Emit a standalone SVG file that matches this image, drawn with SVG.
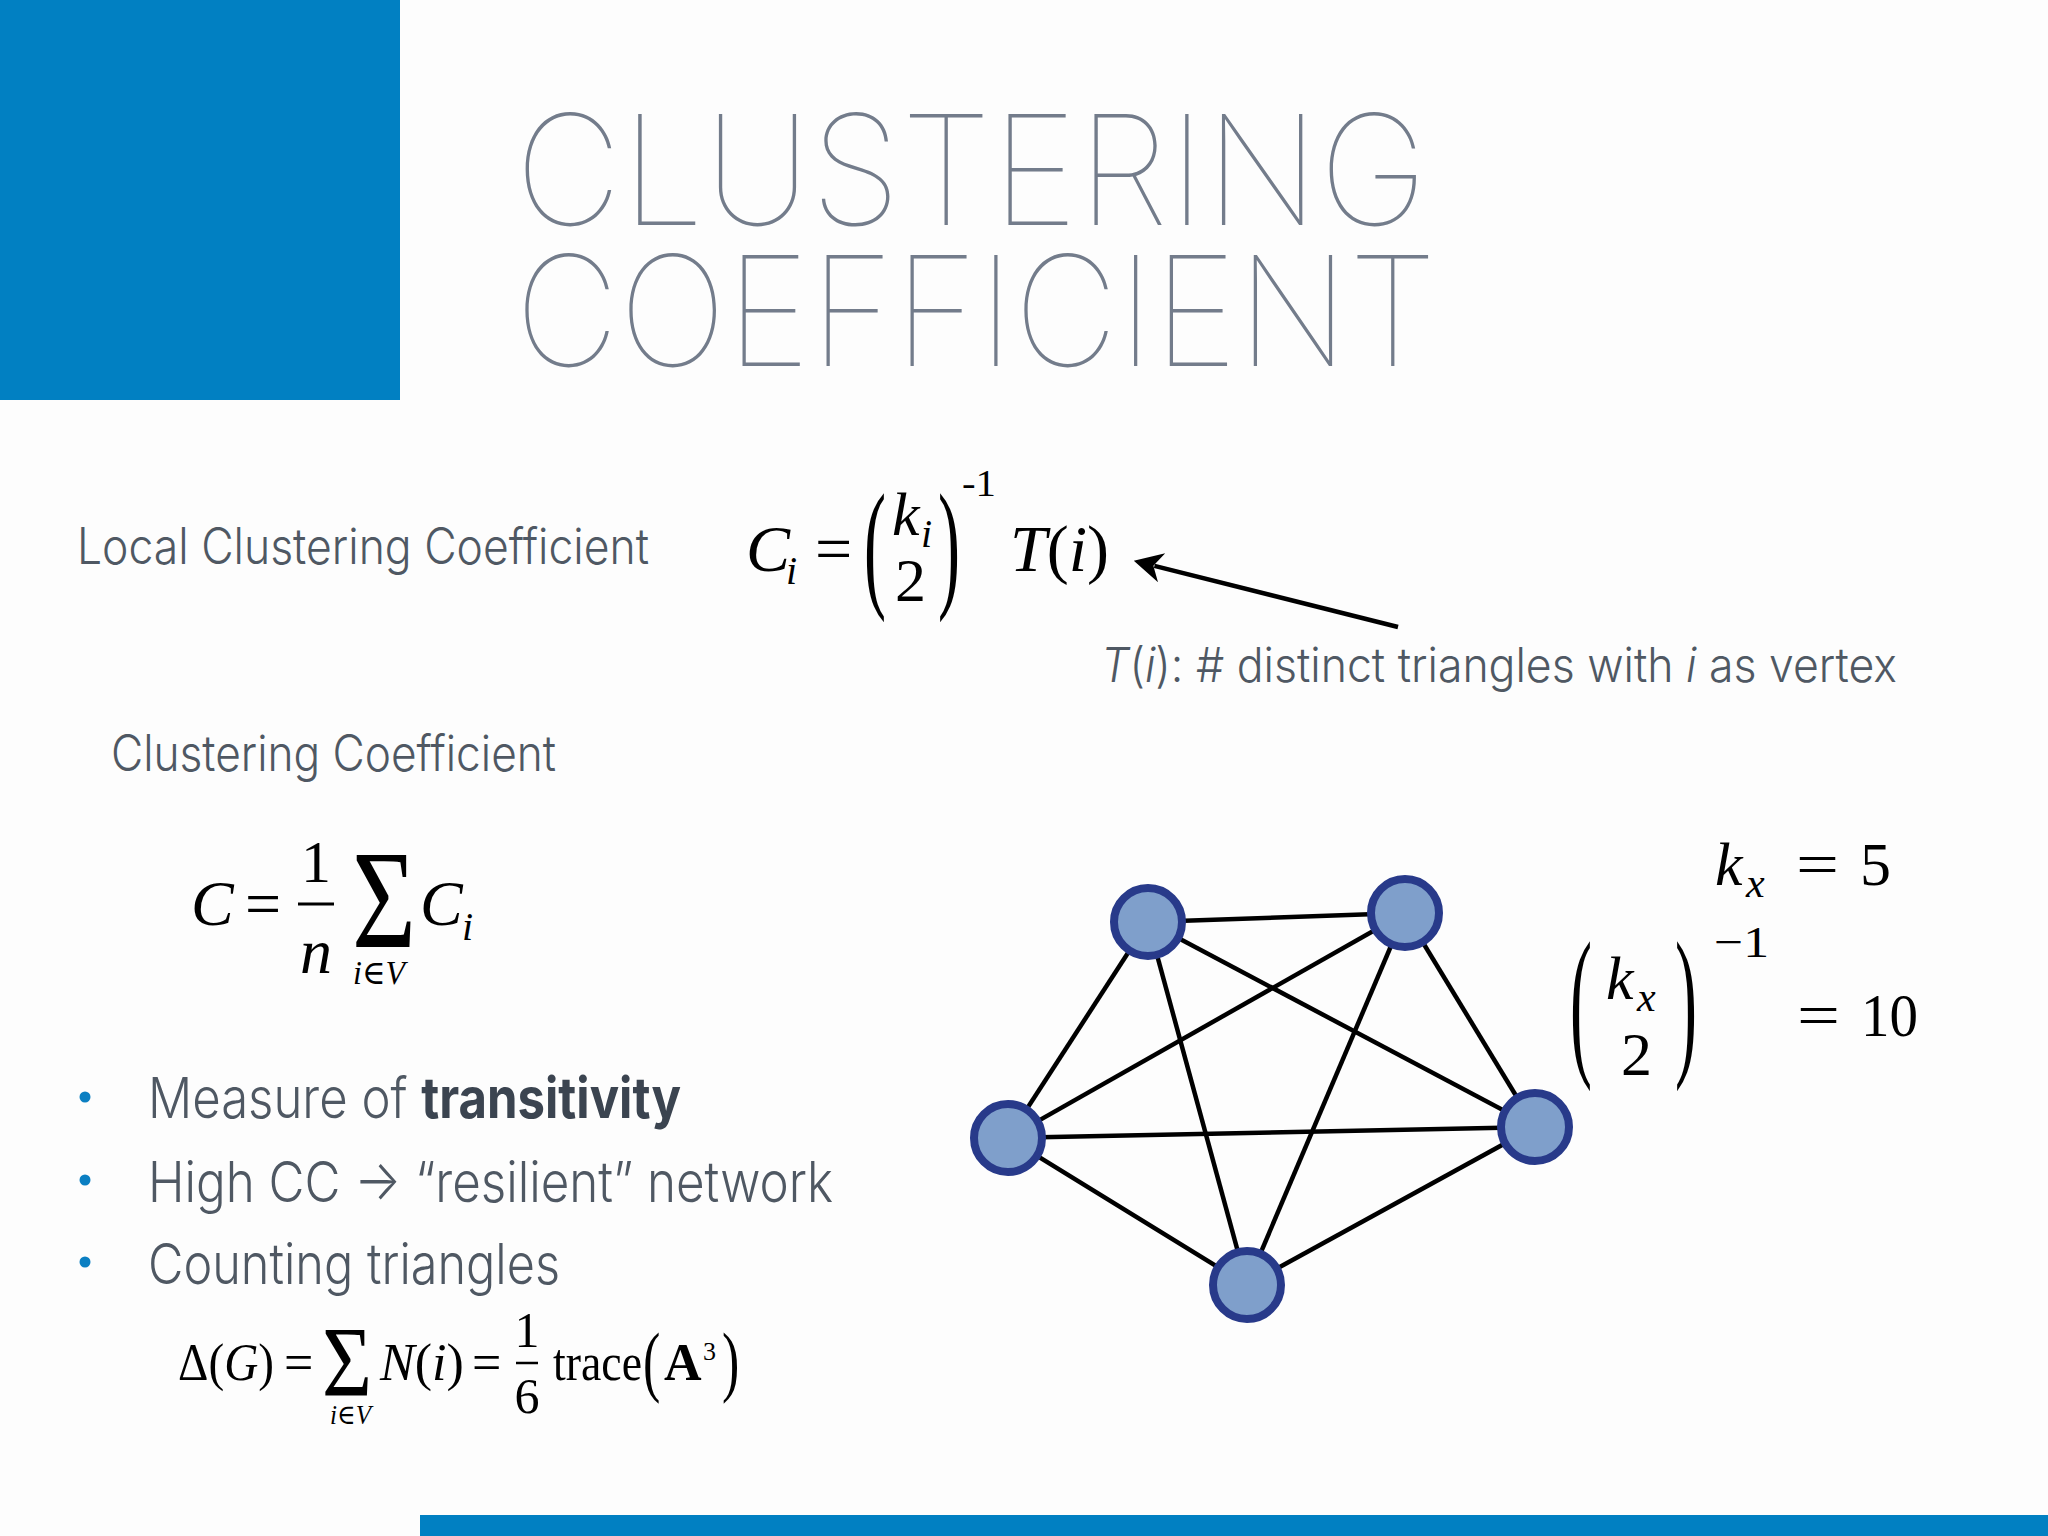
<svg xmlns="http://www.w3.org/2000/svg" width="2048" height="1536" viewBox="0 0 2048 1536">
<defs>
<style>
.title{font-family:Inter,"Liberation Sans",sans-serif;font-weight:100;font-size:153px;fill:#737c8b}
.body{font-family:Inter,"Liberation Sans",sans-serif;font-weight:300;fill:#4f5863}
.m{font-family:"Liberation Serif","DejaVu Serif",serif;fill:#000}
.it{font-style:italic}
.edge{stroke:#000;stroke-width:4.5;fill:none}
.node{fill:#7f9fcb;stroke:#283a8a;stroke-width:8}
.dot{fill:#0b7fc2}
</style>
<marker id="ah" markerUnits="userSpaceOnUse" markerWidth="44" markerHeight="34" viewBox="-10 -16 34 32" refX="0" refY="0" orient="auto">
<path d="M20,0 L-7,-14 L1,0 L-7,14 Z" fill="#000"/>
</marker>
</defs>
<rect width="2048" height="1536" fill="#fdfdfd"/>
<rect x="0" y="0" width="400" height="400" fill="#0180c2"/>
<rect x="420" y="1515" width="1628" height="21" fill="#0180c2"/>

<g id="title">
<text class="title" x="515" y="225" textLength="913" lengthAdjust="spacingAndGlyphs">CLUSTERING</text>
<text class="title" x="515" y="366" textLength="922" lengthAdjust="spacingAndGlyphs">COEFFICIENT</text>
</g>

<g id="local-label">
<text class="body" x="77" y="564" font-size="50" textLength="572" lengthAdjust="spacingAndGlyphs">Local Clustering Coefficient</text>
</g>

<g id="formula-local">
<text class="m it" x="746" y="571" font-size="66">C</text>
<text class="m it" x="786" y="584" font-size="40">i</text>
<text class="m" x="815" y="571" font-size="66">=</text>
<text class="m" transform="translate(864,558) scale(1,2.15)" x="0" y="16" font-size="66">(</text>
<text class="m it" x="892" y="535" font-size="62">k</text>
<text class="m it" x="921" y="547" font-size="40">i</text>
<text class="m" x="895" y="601" font-size="62">2</text>
<text class="m" transform="translate(938,558) scale(1,2.15)" x="0" y="16" font-size="66">)</text>
<text class="m" x="962" y="496" font-size="38" textLength="34" lengthAdjust="spacingAndGlyphs">-1</text>
<text class="m" x="1010" y="571" font-size="66"><tspan class="it">T</tspan>(<tspan class="it">i</tspan>)</text>
</g>

<g id="connectors">
<line class="edge" x1="1398" y1="627" x2="1154.4" y2="565.9" stroke-width="6.5" marker-end="url(#ah)"/>
<line class="edge" x1="1148" y1="922" x2="1405" y2="913" stroke-width="5"/>
<line class="edge" x1="1148" y1="922" x2="1008" y2="1138"/>
<line class="edge" x1="1148" y1="922" x2="1535" y2="1127"/>
<line class="edge" x1="1148" y1="922" x2="1247" y2="1285"/>
<line class="edge" x1="1405" y1="913" x2="1008" y2="1138"/>
<line class="edge" x1="1405" y1="913" x2="1535" y2="1127"/>
<line class="edge" x1="1405" y1="913" x2="1247" y2="1285"/>
<line class="edge" x1="1008" y1="1138" x2="1535" y2="1127" stroke-width="5"/>
<line class="edge" x1="1008" y1="1138" x2="1247" y2="1285"/>
<line class="edge" x1="1535" y1="1127" x2="1247" y2="1285"/>
</g>

<g id="ti-label">
<text class="body" x="1101" y="682" font-size="48" textLength="796" lengthAdjust="spacingAndGlyphs"><tspan class="it">T</tspan>(<tspan class="it">i</tspan>): # distinct triangles with <tspan class="it">i</tspan> as vertex</text>
</g>

<g id="cc-label">
<text class="body" x="111" y="771" font-size="50" textLength="445" lengthAdjust="spacingAndGlyphs">Clustering Coefficient</text>
</g>

<g id="formula-global">
<text class="m it" x="191" y="925" font-size="64">C</text>
<text class="m" x="245" y="925" font-size="64">=</text>
<text class="m" x="316" y="882" font-size="60" text-anchor="middle">1</text>
<line x1="298" y1="904" x2="334" y2="904" stroke="#000" stroke-width="3"/>
<text class="m it" x="316" y="973" font-size="64" text-anchor="middle">n</text>
<text class="m" x="352" y="947" font-size="140" textLength="64" lengthAdjust="spacingAndGlyphs">Σ</text>
<text class="m it" x="420" y="925" font-size="64">C</text>
<text class="m it" x="462" y="940" font-size="40">i</text>
<text class="m it" x="353" y="984" font-size="34" textLength="52" lengthAdjust="spacingAndGlyphs">i<tspan font-style="normal">∈</tspan>V</text>
</g>

<g id="bullets">
<circle class="dot" cx="85" cy="1097" r="5.5"/>
<circle class="dot" cx="85" cy="1180" r="5.5"/>
<circle class="dot" cx="85" cy="1262" r="5.5"/>
<text class="body" x="148" y="1118" font-size="56" textLength="533" lengthAdjust="spacingAndGlyphs">Measure of <tspan font-weight="700" fill="#3b4450">transitivity</tspan></text>
<text class="body" x="148" y="1202" font-size="56" textLength="685" lengthAdjust="spacingAndGlyphs">High CC → “resilient” network</text>
<text class="body" x="148" y="1284" font-size="56" textLength="412" lengthAdjust="spacingAndGlyphs">Counting triangles</text>
</g>

<g id="formula-triangles">
<text class="m" x="178" y="1380" font-size="52" textLength="96" lengthAdjust="spacingAndGlyphs">Δ(<tspan class="it">G</tspan>)</text>
<text class="m" x="284" y="1380" font-size="52">=</text>
<text class="m" x="322" y="1395" font-size="100" textLength="50" lengthAdjust="spacingAndGlyphs">Σ</text>
<text class="m it" x="330" y="1424" font-size="28" textLength="41" lengthAdjust="spacingAndGlyphs">i<tspan font-style="normal">∈</tspan>V</text>
<text class="m" x="380" y="1380" font-size="52"><tspan class="it">N</tspan>(<tspan class="it">i</tspan>)</text>
<text class="m" x="472" y="1380" font-size="52">=</text>
<text class="m" x="527" y="1347" font-size="50" text-anchor="middle">1</text>
<line x1="516" y1="1363" x2="538" y2="1363" stroke="#000" stroke-width="2.5"/>
<text class="m" x="527" y="1413" font-size="50" text-anchor="middle">6</text>
<text class="m" x="553" y="1380" font-size="52" textLength="89" lengthAdjust="spacingAndGlyphs">trace</text>
<text class="m" transform="translate(643,1366) scale(1,1.5)" x="0" y="14" font-size="52">(</text>
<text class="m" x="664" y="1380" font-size="52" font-weight="700">A</text>
<text class="m" x="703" y="1360" font-size="26">3</text>
<text class="m" transform="translate(722,1366) scale(1,1.5)" x="0" y="14" font-size="52">)</text>
</g>

<g id="nodes">
<circle id="node-tl" class="node" cx="1148" cy="922" r="34"/>
<circle id="node-tr" class="node" cx="1405" cy="913" r="34"/>
<circle id="node-l" class="node" cx="1008" cy="1138" r="34"/>
<circle id="node-r" class="node" cx="1535" cy="1127" r="34"/>
<circle id="node-b" class="node" cx="1247" cy="1285" r="34"/>
</g>

<g id="degree-math">
<text class="m it" x="1715" y="885" font-size="62">k</text>
<text class="m it" x="1746" y="897" font-size="42">x</text>
<text class="m" x="1796" y="885" font-size="62" textLength="43" lengthAdjust="spacingAndGlyphs">=</text>
<text class="m" x="1860" y="885" font-size="62">5</text>
<text class="m" transform="translate(1570,1016) scale(1,2.5)" x="0" y="16" font-size="66">(</text>
<text class="m it" x="1606" y="999" font-size="62">k</text>
<text class="m it" x="1637" y="1011" font-size="42">x</text>
<text class="m" x="1621" y="1075" font-size="62">2</text>
<text class="m" transform="translate(1675,1016) scale(1,2.5)" x="0" y="16" font-size="66">)</text>
<text class="m" x="1714" y="957" font-size="44" textLength="55" lengthAdjust="spacingAndGlyphs">−1</text>
<text class="m" x="1797" y="1036" font-size="62" textLength="43" lengthAdjust="spacingAndGlyphs">=</text>
<text class="m" x="1861" y="1036" font-size="62" textLength="57" lengthAdjust="spacingAndGlyphs">10</text>
</g>
</svg>
